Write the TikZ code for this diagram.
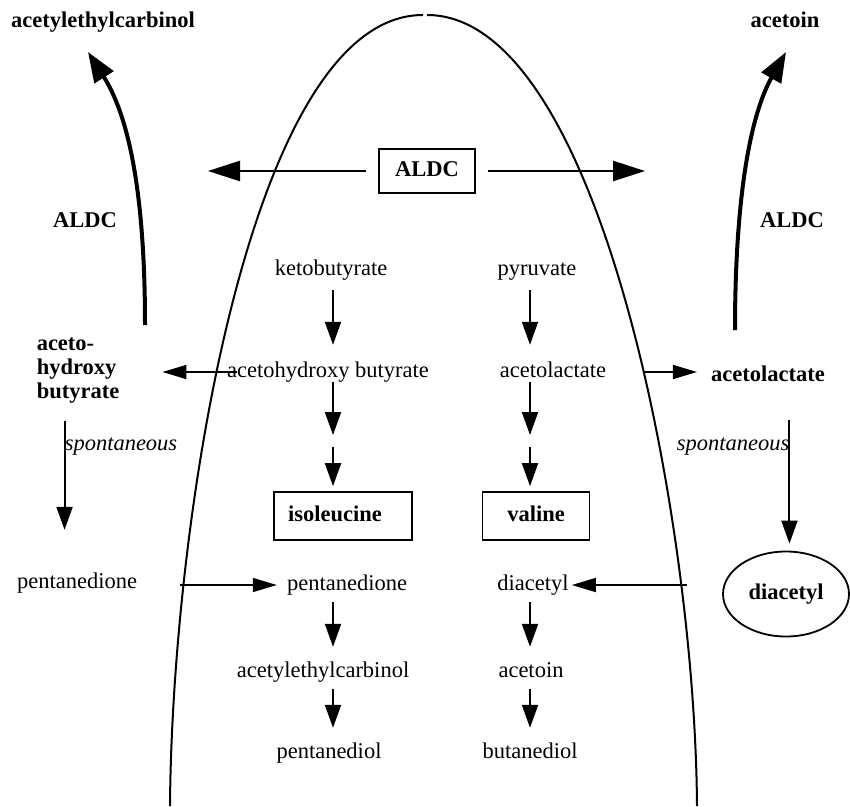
\documentclass[tikz,border=0pt]{standalone}
\usepackage{fontspec}
\setmainfont{Liberation Serif}
\usetikzlibrary{arrows.meta, positioning, shapes.geometric}

\tikzset{
    lbl/.style={inner sep=0pt, text height=15pt, text depth=5pt, font=\fontsize{22.5}{26}\selectfont},
    blbl/.style={lbl, font=\fontsize{22.5}{26}\selectfont\bfseries},
    ilbl/.style={lbl, font=\fontsize{22.5}{26}\selectfont\itshape},
    boxed/.style={draw, line width=1.6pt, minimum height=48pt, inner xsep=14pt},
    arr/.style={line width=2pt, -{Triangle[length=23pt,width=16pt]}},
    harr/.style={line width=1.5pt, -{Triangle[length=24pt,width=14pt]}},
    bigarr/.style={line width=2.6pt, -{Triangle[length=32pt,width=20pt]}},
    curvearr/.style={line width=4pt, -{Triangle[length=30pt,width=22pt]}},
    membrane/.style={line width=2pt}
}

\begin{document}
\begin{tikzpicture}[x=1pt,y=-1pt]
    \useasboundingbox (0,0) rectangle (850,806);
    % cell membrane
    \draw[membrane] (170,806) .. controls (172,520) and (250,15) .. (423,15);
    \draw[membrane] (427,15) .. controls (600,15) and (695,520) .. (697,806);

    % outside the cell
    \node[blbl] (aecout) at (103,22) {acetylethylcarbinol};
    \node[blbl] (acout) at (785,22) {acetoin};
    \node[blbl] (aldcl) at (85,222) {ALDC};
    \node[blbl] (aldcr) at (792,222) {ALDC};
    \node[font=\fontsize{22.5}{24}\selectfont\bfseries, inner sep=0pt, align=left] (ahbout) at (78,371) {aceto-\\hydroxy\\butyrate};
    \node[blbl] (alacout) at (768,376) {acetolactate};
    \node[ilbl] (sponl) at (121,445) {spontaneous};
    \node[ilbl] (sponr) at (733,445) {spontaneous};
    \node[lbl] (pdoout) at (77,583) {pentanedione};
    \node[blbl, draw, ellipse, line width=1.8pt, minimum width=126pt, minimum height=85pt] (diaout) at (786,594) {diacetyl};

    % inside the cell
    \node[blbl, draw, line width=2.5pt, minimum width=96pt, minimum height=44pt] (aldc) at (427,171) {ALDC};
    \node[lbl] (keto) at (331,270) {ketobutyrate};
    \node[lbl] (pyr) at (537,270) {pyruvate};
    \node[lbl] (ahb) at (328,372) {acetohydroxy butyrate};
    \node[lbl] (alac) at (553,372) {acetolactate};
    \node[blbl, boxed, text width=110pt, align=left] (ile) at (343,516) {isoleucine};
    \node[blbl, boxed, minimum width=107pt] (val) at (536,516) {valine};
    \node[lbl] (pdo) at (347,585) {pentanedione};
    \node[lbl] (dia) at (533,585) {diacetyl};
    \node[lbl] (aec) at (323,672) {acetylethylcarbinol};
    \node[lbl] (act) at (531,672) {acetoin};
    \node[lbl] (pdl) at (329,753) {pentanediol};
    \node[lbl] (bdl) at (530,753) {butanediol};

    \coordinate (ilemid) at (333,441);
    \coordinate (valmid) at (530,441);
    \coordinate (inl) at (208,171);
    \coordinate (inr) at (645,171);
    \coordinate (lfoot) at (145,325);
    \coordinate (ltip) at (88,52);
    \coordinate (rfoot) at (735,330);
    \coordinate (rtip) at (786,52);

    % ALDC
    \draw[bigarr, shorten <=12pt] (aldc) -- (inl);
    \draw[bigarr, shorten <=12pt] (aldc) -- (inr);
    \draw[curvearr] (lfoot) .. controls (145,190) and (128,115) .. (ltip);
    \draw[curvearr] (rfoot) .. controls (735,190) and (752,112) .. (rtip);

    % pathways
    \draw[arr, shorten <=10pt, shorten >=17pt] (keto.south -| ilemid) -- (ahb.north -| ilemid);
    \draw[arr, shorten <=10pt, shorten >=17pt] (pyr.south -| valmid) -- (alac.north -| valmid);
    \draw[arr, shorten >=6pt] (ahb.south -| ilemid) -- (ilemid);
    \draw[arr, shorten >=6pt] (alac.south -| valmid) -- (valmid);
    \draw[arr, shorten <=6pt, shorten >=5pt] (ilemid) -- (ile.north -| ilemid);
    \draw[arr, shorten <=6pt, shorten >=5pt] (valmid) -- (val.north -| valmid);
    \foreach \a/\b in {pdo/aec, aec/pdl} {
        \draw[arr, shorten <=7pt, shorten >=15pt] (\a.south -| ilemid) -- (\b.north -| ilemid);
    }
    \foreach \a/\b in {dia/act, act/bdl} {
        \draw[arr, shorten <=7pt, shorten >=15pt] (\a.south -| valmid) -- (\b.north -| valmid);
    }

    % across the membrane
    \draw[harr, shorten <=-10pt, shorten >=43pt] (ahb.west) -- (ahbout.east |- ahb.west);
    \draw[harr, shorten <=37pt, shorten >=14pt] (alac.east) -- (alacout.west |- alac.east);
    \draw[harr, shorten <=43pt, shorten >=10pt] (pdoout.east |- pdo.west) -- (pdo.west);
    \draw[harr, shorten <=35pt, shorten >=3pt] (diaout.west |- dia.east) -- (dia.east);

    % spontaneous
    \draw[arr, shorten <=17pt, shorten >=43pt] (ahbout.south -| sponl.west) -- (pdoout.north -| sponl.west);
    \draw[arr, shorten <=34pt, shorten >=7pt] (alacout.south -| sponr.east) -- (diaout.north -| sponr.east);
\end{tikzpicture}
\end{document}
